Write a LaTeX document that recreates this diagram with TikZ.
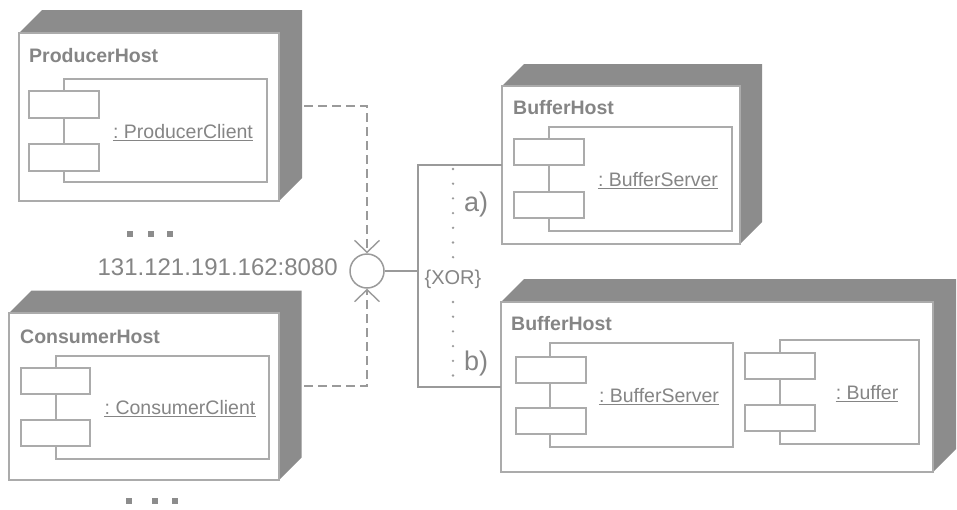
\documentclass[tikz,border=0pt]{standalone}
\usepackage{fontspec}
\setmainfont{Liberation Sans}
\usetikzlibrary{calc,arrows.meta,backgrounds}
\frenchspacing
\definecolor{side}{HTML}{8C8C8C}
\definecolor{edge}{HTML}{ABABAB}
\definecolor{txt}{HTML}{858585}
\definecolor{conn}{HTML}{9A9A9A}
\newcommand\darkside[2]{%
  \fill[side] (#1.north west) -- ($(#1.north west)+(#2,-#2)$) -- ($(#1.north east)+(#2,-#2)$)
    -- ($(#1.south east)+(#2,-#2)$) -- (#1.south east) -- (#1.north east) -- cycle;}
\tikzset{
  face/.style={draw=edge, line width=1.3pt, fill=white, rectangle, anchor=north west, inner sep=0pt, outer sep=0pt},
  compbox/.style={draw=edge, line width=1.2pt, fill=white, rectangle, anchor=north west, inner sep=0pt, outer sep=0pt},
  portbox/.style={compbox, minimum width=70pt, minimum height=26pt},
  hosttitle/.style={anchor=base west, inner sep=0pt, text=txt, font=\fontsize{19.5}{22}\selectfont\bfseries},
  complabel/.style={anchor=base, inner sep=0pt, text=txt, font=\fontsize{19.5}{22}\selectfont},
  uline/.style={draw=txt, line width=1pt},
  conline/.style={draw=conn, line width=1.6pt},
  dashline/.style={conline, dash pattern=on 9pt off 5pt, -{Straight Barb[length=12pt,width=25pt,line width=1.4pt]}},
  dotline/.style={draw=conn, line width=2.6pt, line cap=round, dash pattern=on 0pt off 14.7pt},
  sq/.style={fill=side, minimum size=6.5pt, inner sep=0pt, rectangle},
  bigtext/.style={inner sep=0pt, text=txt, font=\fontsize{24}{26}\selectfont},
  alttext/.style={inner sep=0pt, text=txt, font=\fontsize{27}{30}\selectfont, anchor=base west}
}
\begin{document}
\begin{tikzpicture}[x=1pt,y=-1pt]
\useasboundingbox (0,0) rectangle (957,509);

% hosts
\node[face, minimum width=260pt, minimum height=168pt] (ph) at (19,33) {};
\node[face, minimum width=270pt, minimum height=167pt] (ch) at (9,313) {};
\node[face, minimum width=238pt, minimum height=158pt] (bh1) at (502,86) {};
\node[face, minimum width=432pt, minimum height=170pt] (bh2) at (501,302) {};
\begin{scope}[on background layer]
  \fill[white] (0,0) rectangle (957,509);
  \darkside{ph}{23}
  \darkside{ch}{22.5}
  \darkside{bh1}{22}
  \darkside{bh2}{23}
\end{scope}

\node[hosttitle] (pht) at (29,62) {ProducerHost};
\node[hosttitle] (cht) at (20,343) {ConsumerHost};
\node[hosttitle] (bh1t) at (513,114) {BufferHost};
\node[hosttitle] (bh2t) at (511,330) {BufferHost};

% ProducerClient
\node[compbox, minimum width=203pt, minimum height=103pt] (pc) at (64,79) {};
\node[portbox, minimum height=27pt] (pcp1) at (29,91) {};
\node[portbox, minimum height=27pt] (pcp2) at (29,144) {};
\node[complabel] (pcl) at (183,138) {: ProducerClient};
\draw[uline] ($(pcl.base west)+(0,2)$) -- ($(pcl.base east)+(0,2)$);

% ConsumerClient
\node[compbox, minimum width=213pt, minimum height=103pt] (cc) at (56,356) {};
\node[portbox, minimum width=69pt] (ccp1) at (21,368) {};
\node[portbox, minimum width=69pt] (ccp2) at (21,420) {};
\node[complabel] (ccl) at (180,414) {: ConsumerClient};
\draw[uline] ($(ccl.base west)+(0,2)$) -- ($(ccl.base east)+(0,2)$);

% BufferServer 1
\node[compbox, minimum width=183pt, minimum height=104pt] (bs1) at (549,127) {};
\node[portbox] (bs1p1) at (514,139) {};
\node[portbox] (bs1p2) at (514,192) {};
\node[complabel] (bs1l) at (658,186) {: BufferServer};
\draw[uline] ($(bs1l.base west)+(0,2)$) -- ($(bs1l.base east)+(0,2)$);

% BufferServer 2
\node[compbox, minimum width=183pt, minimum height=104pt] (bs2) at (550,343) {};
\node[portbox] (bs2p1) at (516,357) {};
\node[portbox] (bs2p2) at (516,408) {};
\node[complabel] (bs2l) at (659,402) {: BufferServer};
\draw[uline] ($(bs2l.base west)+(0,2)$) -- ($(bs2l.base east)+(0,2)$);

% Buffer
\node[compbox, minimum width=139pt, minimum height=104pt] (bf) at (780,340) {};
\node[portbox] (bfp1) at (745,353) {};
\node[portbox] (bfp2) at (745,405) {};
\node[complabel] (bfl) at (867,399) {: Buffer};
\draw[uline] ($(bfl.base west)+(0,2)$) -- ($(bfl.base east)+(0,2)$);

% interface
\node[circle, draw=conn, line width=1.5pt, minimum size=34pt, inner sep=0pt, fill=white] (ip) at (367,271) {};
\node[bigtext, anchor=base east] (ipl) at (338,275) {131.121.191.162:8080};

\coordinate (pout) at (304,106);
\coordinate (cout) at (304,386);
\draw[dashline] (pout) -| (ip.north);
\draw[dashline] (cout) -| (ip.south);

\coordinate (j1) at (418,165);
\coordinate (j2) at (418,387);
\draw[conline] (ip.east) -- (j1 |- ip.east);
\draw[conline] (j1 -| bh1.west) -- (j1) -- (j2) -- (j2 -| bh2.west);

% XOR constraint
\coordinate (u1) at (453,169);
\coordinate (u2) at (453,258);
\coordinate (u3) at (453,302);
\coordinate (u4) at (453,376);
\draw[dotline] (u1) -- (u2);
\draw[dotline] (u3) -- (u4);
\node[inner sep=0pt, text=txt, font=\fontsize{20}{22}\selectfont, anchor=base] (xor) at (453,284) {\{XOR\}};
\node[alttext] (la) at (464,211) {a)};
\node[alttext] (lb) at (464,370) {b)};

% ellipsis marks
\node[sq] (d1) at (130,234) {};
\node[sq] (d2) at (151,234) {};
\node[sq] (d3) at (170,234) {};
\node[sq] (d4) at (129,501) {};
\node[sq] (d5) at (155,501) {};
\node[sq] (d6) at (175,501) {};
\end{tikzpicture}
\end{document}
